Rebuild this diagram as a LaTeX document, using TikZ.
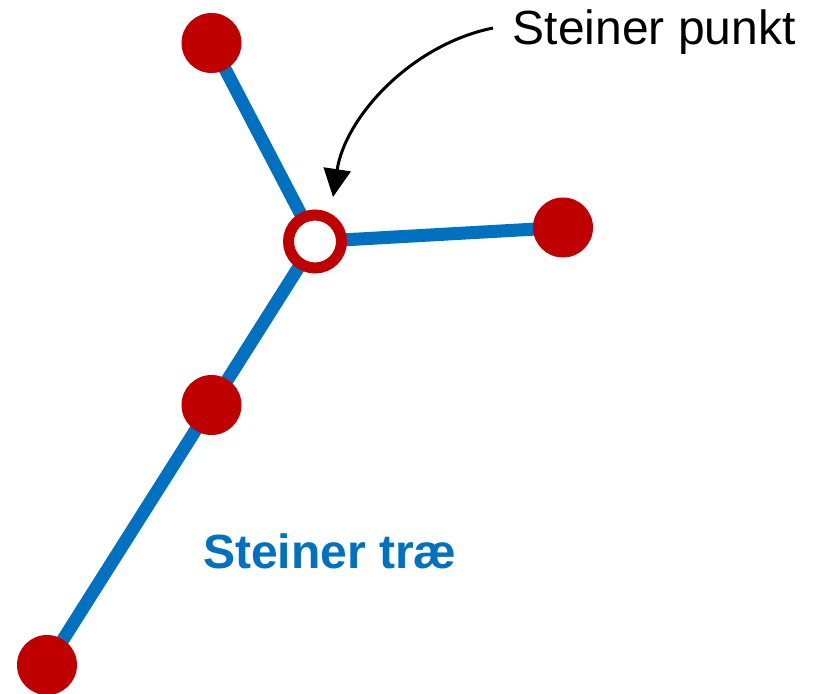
\documentclass[tikz,border=0pt]{standalone}
\usepackage{fontspec}
\setmainfont{Liberation Sans}
\usetikzlibrary{arrows.meta}
\definecolor{dotred}{HTML}{C00000}
\definecolor{treeblue}{HTML}{0070C0}
\pgfdeclarelayer{bg}
\pgfsetlayers{bg,main}
\begin{document}
\begin{tikzpicture}[x=1pt,y=-1pt,
  terminal/.style={circle,fill=dotred,inner sep=0pt,minimum size=60pt},
  steinerpt/.style={circle,draw=dotred,line width=11pt,fill=white,inner sep=0pt,minimum size=53pt},
  treeedge/.style={draw=treeblue,line width=13pt},
  pointer/.style={draw=black,line width=3pt,-{Triangle[length=28pt,width=27pt]}},
  lbl/.style={inner sep=0pt,anchor=base west,font=\fontsize{48}{58}\selectfont}]
\useasboundingbox (0,0) rectangle (813,693);
\node[terminal] (top) at (211.5,43) {};
\node[steinerpt] (sp) at (315,241.5) {};
\node[terminal] (right) at (563,227.5) {};
\node[terminal] (mid) at (211.5,405) {};
\node[terminal] (bot) at (47,665) {};
\begin{pgfonlayer}{bg}
\draw[treeedge] (top.center) -- (sp.center);
\draw[treeedge] (right.center) -- (sp.center);
\draw[treeedge] (bot.center) -- (mid.center) -- (sp.center);
\end{pgfonlayer}
\node[lbl] (lab) at (512.5,45) {Steiner punkt};
\node[lbl,font=\fontsize{48}{58}\selectfont\bfseries,text=treeblue] (tree) at (203,568) {Steiner træ};
\coordinate (start) at (493,28);
\coordinate (tip) at (333,197);
\draw[pointer] (start) .. controls (410,45) and (345,118) .. (tip);
\end{tikzpicture}
\end{document}
